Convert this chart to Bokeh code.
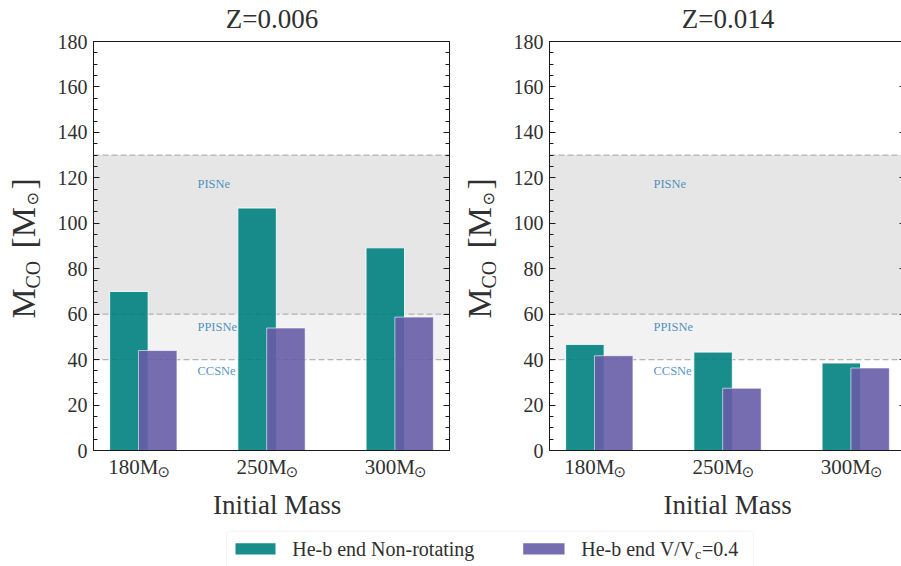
import numpy as np
from math import pi

from bokeh.plotting import figure
from bokeh.models import (Range1d, LinearAxis, SingleIntervalTicker, FixedTicker,
                          BoxAnnotation, ColumnDataSource)
from bokeh.embed import file_html
from bokeh.resources import INLINE
from bokeh.core.properties import value

# ---- data -----------------------------------------------------------------
initial_masses = ["180", "250", "300"]          # M_sun
panel_titles = ["Z=0.006", "Z=0.014"]

mco_nonrot_z006 = [70.0, 106.7, 89.2]           # He-b end, non-rotating
mco_rot_z006 = [44.0, 53.9, 58.7]               # He-b end, V/Vc = 0.4
mco_nonrot_z014 = [46.7, 43.3, 38.5]
mco_rot_z014 = [41.7, 27.4, 36.3]

pisne_band = [60, 130]
ppisne_band = [40, 60]
region_names = ["PISNe", "PPISNe", "CCSNe"]
region_y = [115.5, 52.7, 33.0]

legend_labels = ["He-b end Non-rotating", "He-b end V/V", "c", "=0.4"]

# ---- geometry & style -----------------------------------------------------
W, H = 901, 566
FRAME_L = [93, 549]             # left edge of each panel, px
FRAME_T, FRAME_B = 41, 450      # top / bottom of both panels, px
PX = 128.2                      # px per category step
Y_MAX = 180
YPX = (FRAME_B - FRAME_T) / Y_MAX
X_START = -0.351
X_END = X_START + 356 / PX
RANGE_NAMES = ["default", "right"]

SERIF = "Liberation Serif"
SYMB = "DejaVu Sans"
TXT = "#303030"
TEAL = "#008080"
PURPLE = "#675ca7"
SPINE = "#1a1a1a"
BAR_W = 0.3
LIFT = 0.34                     # baseline correction for text glyphs, in em


def x_range_for(k):
    return Range1d(X_START - FRAME_L[k] / PX, X_START + (W - FRAME_L[k]) / PX)


def px_x(cx, k=0):
    return X_START + (cx - FRAME_L[k]) / PX


def px_y(cy):
    return (FRAME_B - cy) / YPX


p = figure(width=W, height=H, x_range=x_range_for(0),
           y_range=Range1d(px_y(H), px_y(0)), x_axis_type=None, y_axis_type=None,
           output_backend="svg", toolbar_location=None,
           min_border_left=0, min_border_right=0, min_border_top=0,
           min_border_bottom=0)
p.extra_x_ranges = {"right": x_range_for(1)}
p.outline_line_color = None
p.grid.visible = False
p.background_fill_color = "white"
p.border_fill_color = "white"


def txt(cx, cy, text, size, k=0, font=SERIF, angle=0.0, **kw):
    """Place text by its baseline-start point given in px."""
    lift = LIFT * size
    if angle:
        xs = [px_x(c - lift, k) for c in cx]
        ys = [px_y(c) for c in cy]
    else:
        xs = [px_x(c, k) for c in cx]
        ys = [px_y(c - lift) for c in cy]
    opts = dict(text_font=value(font), text_font_size=f"{size}px", angle=angle,
                text_color=TXT, text_baseline="alphabetic", text_align="left",
                x_range_name=RANGE_NAMES[k])
    opts.update(kw)
    p.text(x=xs, y=ys, text=text, **opts)


def draw_panel(k, title, nonrot, rot):
    rn = RANGE_NAMES[k]

    left = LinearAxis(ticker=SingleIntervalTicker(interval=20, num_minor_ticks=4),
                      fixed_location=X_START, bounds=(0, Y_MAX), x_range_name=rn)
    left.axis_line_color = SPINE
    left.major_tick_in, left.major_tick_out = 6, 0
    left.minor_tick_in, left.minor_tick_out = 4, 0
    left.major_tick_line_color = SPINE
    left.minor_tick_line_color = SPINE
    left.major_label_standoff = 6
    left.major_label_text_font = SERIF
    left.major_label_text_font_size = "20px"
    left.major_label_text_color = TXT
    p.add_layout(left, "left")

    right = LinearAxis(ticker=SingleIntervalTicker(interval=20, num_minor_ticks=4),
                       fixed_location=X_END, bounds=(0, Y_MAX), x_range_name=rn)
    right.major_label_overrides = {t: "" for t in range(0, Y_MAX + 1, 20)}
    right.major_label_standoff = 0
    right.axis_line_color = SPINE
    right.major_tick_in, right.major_tick_out = 6, 0
    right.minor_tick_in, right.minor_tick_out = 4, 0
    right.major_tick_line_color = SPINE
    right.minor_tick_line_color = SPINE
    p.add_layout(right, "right")

    for side, loc in (("below", 0), ("above", Y_MAX)):
        ax = LinearAxis(ticker=FixedTicker(ticks=[]), fixed_location=loc,
                        bounds=(X_START, X_END), x_range_name=rn)
        ax.axis_line_color = SPINE
        ax.major_label_standoff = 0
        ax.major_tick_in = ax.major_tick_out = 0
        ax.minor_tick_in = ax.minor_tick_out = 0
        p.add_layout(ax, side)

    # supernova regimes
    for band, alpha in ((pisne_band, 0.2), (ppisne_band, 0.1)):
        p.add_layout(BoxAnnotation(left=X_START, right=X_END, bottom=band[0],
                                   top=band[1], fill_color="gray", fill_alpha=alpha,
                                   line_color=None, level="underlay",
                                   x_range_name=rn))
    edges = sorted(set(pisne_band + ppisne_band))
    p.segment(x0=[X_START] * len(edges), x1=[X_END] * len(edges), y0=edges,
              y1=edges, line_color="#b3b3b3", line_width=1.1, line_dash="6 3",
              x_range_name=rn)

    xs = np.arange(len(initial_masses))
    src = ColumnDataSource(dict(x_nonrot=xs - 0.075, x_rot=xs + 0.15,
                                nonrot=nonrot, rot=rot))
    p.vbar(x="x_nonrot", top="nonrot", width=BAR_W, source=src, x_range_name=rn,
           fill_color=TEAL, fill_alpha=0.9, line_color="white", line_alpha=0.85,
           line_width=1)
    p.vbar(x="x_rot", top="rot", width=BAR_W, source=src, x_range_name=rn,
           fill_color=PURPLE, fill_alpha=0.9, line_color="white", line_alpha=0.6,
           line_width=1)

    region_size = 12.5
    lift = LIFT * region_size / YPX
    p.text(x=[0.46] * len(region_names), y=[v + lift for v in region_y],
           text=region_names, text_font=value(SERIF), x_range_name=rn,
           text_font_size=f"{region_size}px", text_color="#1f77b4",
           text_alpha=0.8, text_baseline="alphabetic", text_align="left")

    # category labels: "180M" with a subscript sun symbol
    lift21, lift15 = LIFT * 21 / YPX, LIFT * 15 / YPX
    p.text(x=list(xs), y=[px_y(474) + lift21] * len(xs),
           text=[m + "M" for m in initial_masses], x_offset=20, x_range_name=rn,
           text_font=value(SERIF), text_font_size="21px", text_color=TXT,
           text_baseline="alphabetic", text_align="right")
    p.text(x=list(xs), y=[px_y(477) + lift15] * len(xs),
           text=["\u2299"] * len(xs), x_offset=19, x_range_name=rn,
           text_font=value(SYMB), text_font_size="15px", text_color=TXT,
           text_baseline="alphabetic", text_align="left")

    # panel title and axis titles
    fl = FRAME_L[k]
    txt([fl + 178.5], [27.3], [title], 27, k=k, text_align="center")
    txt([fl + 183.7 - 5.5 * k], [513.3], ["Initial Mass"], 27, k=k,
        text_align="center")
    up = pi / 2
    txt([fl - 58], [318], ["M"], 34, k=k, angle=up)
    txt([fl - 54], [288], ["CO"], 20, k=k, angle=up)
    txt([fl - 58], [248], ["[M"], 34, k=k, angle=up)
    txt([fl - 56], [205], ["\u2299"], 16, k=k, font=SYMB, angle=up)
    txt([fl - 58], [189], ["]"], 34, k=k, angle=up)


draw_panel(0, panel_titles[0], mco_nonrot_z006, mco_rot_z006)
draw_panel(1, panel_titles[1], mco_nonrot_z014, mco_rot_z014)

# ---- shared legend --------------------------------------------------------
p.add_layout(BoxAnnotation(left=px_x(226), right=px_x(753), bottom=px_y(572),
                           top=px_y(530.7), fill_color="white", fill_alpha=1,
                           level="underlay", line_color="#dcdcdc", line_width=1,
                           border_radius=4))
p.quad(left=[px_x(235), px_x(522.7)], right=[px_x(275), px_x(564)],
       bottom=[px_y(554)] * 2, top=[px_y(542.7)] * 2,
       fill_color=[TEAL, PURPLE], fill_alpha=0.9, line_color=None)
txt([291.7], [555], [legend_labels[0]], 20)
txt([580.7], [555], [legend_labels[1]], 20)
txt([694.5], [559], [legend_labels[2]], 14)
txt([701.5], [555], [legend_labels[3]], 20)

open("out.html", "w").write(file_html(p, INLINE))
